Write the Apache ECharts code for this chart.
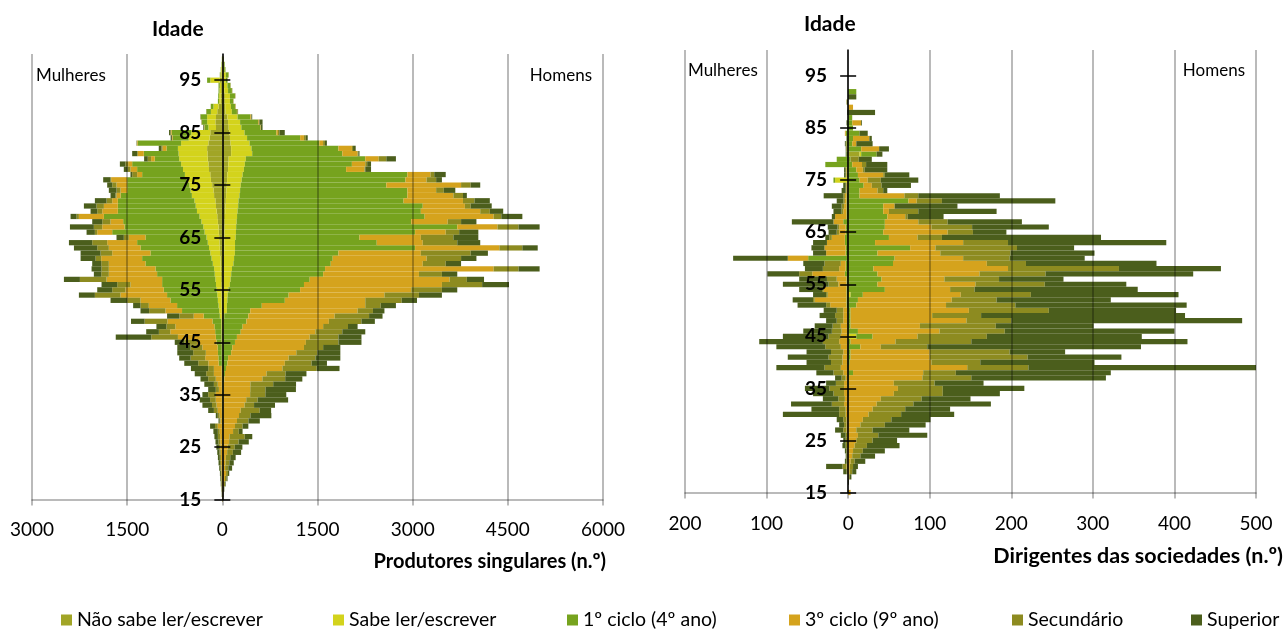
<!DOCTYPE html>
<html>
<head>
<meta charset="utf-8">
<script src="https://cdn.jsdelivr.net/npm/echarts@6/dist/echarts.min.js"></script>
<style>
html,body{margin:0;padding:0;background:#fff;}
#c{width:1284px;height:630px;}
</style>
</head>
<body>
<div id="c"></div>
<script>
// Age categories (y axis)
const ages = ['15','16','17','18','19','20','21','22','23','24','25','26','27','28','29','30','31','32','33','34','35','36','37','38','39','40','41','42','43','44','45','46','47','48','49','50','51','52','53','54','55','56','57','58','59','60','61','62','63','64','65','66','67','68','69','70','71','72','73','74','75','76','77','78','79','80','81','82','83','84','85','86','87','88','89','90','91','92','93','94','95','96','97','98','99','100'];
const yTickLabels = ['15','25','35','45','55','65','75','85','95'];
const catNames = ['Não sabe ler/escrever','Sabe ler/escrever','1º ciclo (4º ano)','3º ciclo (9º ano)','Secundário','Superior'];
const catColors = ['#a1a526','#d3d31c','#76a31e','#d5a31d','#8d8b20','#4b5e1c'];

// ---------- Produtores singulares, Homens (ages 15..99)
const psM_NS  = [0,0,0,0,0,1,1,1,1,1, 1,1,1,1,1,1,2,2,2,2, 2,3,3,3,3,4,4,5,5,6, 6,7,8,8,9,10,12,12,14,14, 16,18,20,20,22,25,25,28,30,30, 35,35,38,40,42,45,50,55,60,65, 70,75,80,90,95,100,139,139,130,120, 110,100,90,80,50,45,40,40,30,25, 15,15,10,8,5];
const psM_SL  = [0,0,0,0,0,0,0,0,0,0, 0,0,0,1,1,1,1,1,1,2, 2,2,2,3,3,3,5,5,6,7, 10,10,12,14,16,20,60,60,65,70, 80,100,110,120,130,150,160,170,170,170, 175,180,180,185,190,195,200,200,210,215, 220,230,240,250,260,270,332,320,300,270, 240,200,190,160,100,90,80,80,60,55, 40,40,20,15,10];
const psM_C1  = [0,1,1,2,2,3,3,4,4,5, 5,6,6,7,8,9,10,11,12,13, 14,15,17,25,35,50,70,81,128,144, 183,213,270,298,355,381,369,550,906,961, 1130,1169,1247,1449,1467,1534,1555,1632,2838,2234, 1952,2823,3485,2753,2957,2889,2909,2602,2647,2637, 2295,2582,2597,1611,1687,1883,1420,1371,1098,836, 502,298,282,201,80,64,49,79,61,47, 25,42,18,13,9];
const psM_C3  = [3,8,15,25,40,55,40,45,50,70, 80,100,105,160,190,220,250,275,335,360, 420,420,420,600,655,890,906,954,1027,1130, 1118,1147,1178,1269,1299,1359,1691,1631,1268,1510, 1752,2174,2205,1510,2657,1450,1479,1299,1329,725, 967,483,634,574,1087,936,664,936,725,453, 1178,332,363,290,211,211,241,212,60,60, 24,6,12,12,6,6,4,4,3,2, 2,2,1,1,1];
const psM_SEC = [2,5,10,15,25,30,50,60,70,90, 110,150,240,90,120,180,180,300,150,180, 240,240,360,360,300,540,422,423,332,302, 513,453,423,392,514,543,242,242,574,544, 483,634,272,362,393,362,544,785,362,544, 513,212,332,211,121,151,91,181,151,121, 151,151,60,12,30,121,12,18,30,30, 24,6,12,6,6,6,2,2,2,2, 1,1,1,0,0];
const psM_SUP = [0,2,5,10,15,20,60,70,85,130, 120,160,120,60,90,180,330,180,330,480, 330,480,360,270,330,360,242,392,362,271, 363,363,362,151,211,212,181,241,241,362, 242,423,271,242,332,242,242,272,242,362, 393,302,332,242,332,211,332,242,61,181, 151,91,181,91,61,151,18,42,30,30, 84,24,48,12,6,0,2,2,2,1, 1,1,0,0,0];

// ---------- Produtores singulares, Mulheres (ages 15..99)
const psW_NS  = [0,0,0,0,0,0,0,0,0,0, 0,1,1,1,1,1,1,1,1,1, 1,1,1,1,1,1,3,3,3,3, 4,4,5,5,6,8,9,10,12,14, 16,18,20,22,25,28,30,35,40,45, 50,55,60,70,80,90,100,110,130,140, 160,180,190,210,220,230,235,240,220,200, 190,100,110,100,80,60,25,25,20,20, 40,15,10,5,3];
const psW_SL  = [0,0,0,0,0,0,0,0,0,1, 1,1,1,1,1,1,1,1,1,1, 1,1,1,1,1,1,5,5,6,6, 8,8,8,10,10,32,41,50,58,66, 74,82,90,98,105,122,140,155,170,185, 200,225,240,260,280,310,320,330,350,360, 360,380,400,410,430,450,455,460,430,330, 300,120,130,140,100,80,25,25,25,20, 150,15,10,5,3];
const psW_C1  = [0,0,1,1,1,1,2,2,2,2, 3,3,3,4,4,4,4,5,5,5, 5,5,6,6,7,8,50,55,60,65, 80,90,100,110,140,254,585,653,748,791, 833,849,839,908,924,1062,1094,943,1080,1113, 962,1456,1242,1233,1507,1247,1227,1207,1125,1000, 980,940,674,723,771,385,548,181,683,250, 310,60,80,100,70,40,20,15,15,20, 50,10,5,5,2];
const psW_C3  = [2,3,5,8,10,12,15,18,20,22, 25,28,30,35,66,24,36,65,84,96, 96,47,64,95,124,123,162,207,191,241, 308,598,707,615,709,157,262,446,472,734, 603,499,876,761,735,577,645,603,499,472, 262,236,351,199,394,246,220,89,63,105, 168,252,79,105,63,57,94,60,10,10, 10,5,3,2,2,1,0,0,0,0, 0,0,0,0,0];
const psW_SEC = [1,3,4,6,8,10,12,15,18,20, 25,30,35,30,43,12,30,61,72,90, 120,49,61,120,121,90,160,230,200,185, 200,420,180,141,360,226,257,131,210,404, 210,209,420,120,115,120,89,184,183,236, 79,37,132,131,36,79,116,89,16,63, 68,10,78,42,42,53,11,19,5,5, 10,3,3,2,2,1,0,0,0,0, 0,0,0,0,0];
const psW_SUP = [2,4,5,10,12,15,20,25,30,35, 40,45,55,70,78,18,31,90,151,163, 91,120,151,121,181,272,220,180,250,210, 150,560,200,158,215,194,136,116,262,252, 236,247,252,116,157,142,236,314,367,367, 115,131,377,158,95,105,199,184,78,121, 79,116,27,63,89,58,78,42,5,20, 20,12,4,4,2,1,0,0,0,0, 0,0,0,0,0];

// ---------- Dirigentes das sociedades, Homens (ages 15..99)
const dsM_NS  = [0,0,0,0,0,0,0,0,0,0, 0,0,0,0,0,0,0,0,0,0, 0,0,0,0,0,0,0,0,0,0, 0,0,0,0,0,0,0,0,1,0, 0,0,0,0,0,0,0,0,0,0, 0,0,0,0,0,0,0,0,0,0, 0,0,0,0,0,14,0,0,0,0, 0,0,0,0,0,0,0,0,0,0, 0,0,0,0,0];
const dsM_SL  = [0,0,0,0,0,0,0,0,0,0, 0,0,0,0,0,0,0,0,0,0, 0,0,0,0,0,0,0,0,0,0, 10,0,0,0,0,0,0,0,2,0, 0,0,0,0,0,0,0,0,0,0, 0,0,0,0,0,0,0,0,0,0, 0,0,0,0,0,2,0,0,0,0, 0,0,0,0,0,0,0,0,0,0, 0,0,0,0,0];
const dsM_C1  = [0,0,0,0,0,0,0,0,0,0, 0,0,0,0,0,0,0,0,0,1, 1,1,1,6,1,2,3,3,15,3, 20,12,3,3,3,3,10,12,15,45, 36,41,36,31,55,57,36,76,33,50, 43,45,45,48,43,43,74,14,14,19, 14,12,10,5,3,19,16,5,6,14, 6,5,5,0,0,0,0,10,0,0, 0,0,0,0,0];
const dsM_C3  = [3,0,0,1,2,2,3,5,6,8, 10,12,10,15,18,25,30,35,40,55, 60,55,90,86,145,100,97,97,25,55, 55,100,85,142,100,145,110,115,120,80, 120,77,125,165,115,84,77,31,108,35, 79,57,41,22,7,14,10,55,22,10, 10,31,8,12,0,0,22,5,20,0, 0,11,0,0,6,0,0,0,0,0, 0,0,0,0,0];
const dsM_SEC = [0,0,0,1,3,4,5,10,12,15, 20,25,20,30,35,40,40,45,50,60, 55,50,60,40,75,60,120,98,57,93, 85,80,93,55,60,98,85,55,86,30, 85,67,81,136,48,57,86,100,55,30, 31,50,36,3,36,0,31,17,7,12, 16,2,2,5,10,0,0,0,0,0, 0,0,0,0,0,0,0,0,0,0, 0,0,0,0,0];
const dsM_SUP = [0,0,1,2,5,6,13,18,27,40, 30,60,45,50,48,65,55,95,60,70, 100,60,165,190,279,140,115,68,262,265, 190,208,120,283,250,156,210,140,181,200, 100,79,181,125,160,92,103,70,194,195, 41,94,91,44,96,77,139,100,5,36, 46,30,28,26,16,7,12,20,3,10, 0,1,0,33,0,0,10,0,0,0, 0,0,0,0,0];

// ---------- Dirigentes das sociedades, Mulheres (ages 15..99)
const dsW_NS  = [0,0,0,0,0,0,0,0,0,0, 0,0,0,0,0,0,0,0,0,0, 0,0,0,0,0,0,0,0,0,0, 0,0,0,0,0,0,0,0,0,0, 0,0,0,0,0,0,0,0,0,0, 0,0,0,0,0,0,0,0,0,0, 0,0,0,0,0,0,0,0,0,1, 0,0,0,0,0,0,0,0,0,0, 0,0,0,0,0];
const dsW_SL  = [0,0,0,0,0,0,0,0,0,0, 0,0,0,0,0,0,0,0,0,0, 0,0,0,0,0,0,0,0,0,0, 0,0,0,0,0,0,0,0,0,0, 0,0,0,0,0,0,0,0,0,0, 0,0,0,0,0,0,0,0,0,0, 16,0,0,0,0,0,0,0,0,0, 0,0,0,0,0,0,0,0,0,0, 0,0,0,0,0];
const dsW_C1  = [0,0,0,0,0,0,0,0,0,0, 0,0,0,0,0,0,0,0,0,0, 0,1,0,1,1,1,1,1,1,1, 1,1,1,1,1,1,2,2,2,2, 2,2,4,3,3,49,3,3,4,4, 3,3,6,2,2,2,2,2,1,1, 2,2,2,28,14,2,1,2,1,2, 1,1,0,0,0,0,0,0,0,0, 0,0,0,0,0];
const dsW_C3  = [0,0,0,0,1,2,1,1,1,1, 1,1,2,2,2,3,3,5,4,5, 5,4,3,5,8,6,6,5,8,10, 8,7,8,5,5,5,20,39,23,28, 10,12,40,8,6,25,24,26,22,16, 8,8,12,14,4,3,2,2,1,1, 0,1,1,0,0,0,1,0,0,1, 0,0,0,0,0,0,0,0,0,0, 0,0,0,0,0];
const dsW_SEC = [0,0,0,0,1,5,1,1,1,2, 2,2,4,3,4,8,8,15,8,13, 18,10,5,12,20,14,17,15,19,20, 15,12,10,8,10,8,5,2,2,2, 12,12,16,20,20,0,0,0,0,3, 3,2,0,0,2,3,2,2,1,1, 0,0,0,0,0,0,0,1,0,0, 0,0,0,0,0,2,0,0,0,0, 0,0,0,0,0];
const dsW_SUP = [0,0,0,0,4,20,2,1,2,4, 3,6,10,6,8,69,34,50,19,25, 30,12,8,21,59,30,50,30,60,78, 56,35,22,13,19,16,35,25,16,28, 56,34,39,22,26,67,16,16,17,5, 10,12,51,4,10,12,8,24,5,3, 0,2,2,0,0,1,1,1,1,0, 0,1,0,1,0,0,0,0,0,0, 0,0,0,0,0];

// x-axis tick settings
const psTicks = {min:-3000, max:6000, interval:1500};
const dsTicks = {min:-200, max:500, interval:100};

const chart = echarts.init(document.getElementById('c'), null, {renderer:'canvas'});
const FONT = 'Lato';

const psM = [psM_NS, psM_SL, psM_C1, psM_C3, psM_SEC, psM_SUP];
const psW = [psW_NS, psW_SL, psW_C1, psW_C3, psW_SEC, psW_SUP];
const dsM = [dsM_NS, dsM_SL, dsM_C1, dsM_C3, dsM_SEC, dsM_SUP];
const dsW = [dsW_NS, dsW_SL, dsW_C1, dsW_C3, dsW_SEC, dsW_SUP];

function isTick(idx){ return yTickLabels.indexOf(ages[idx]) >= 0; }

const grids = [
  {left:32, width:571, top:54, height:445.5, containLabel:false, outerBoundsMode:'none'},
  {left:685, width:571, top:50, height:442.5, containLabel:false, outerBoundsMode:'none'}
];
const ticksOf = [psTicks, dsTicks];
// place the age axis at the zero of the value axis
function zeroOffset(gi){
  const t = ticksOf[gi];
  return -grids[gi].width * (0 - t.min) / (t.max - t.min);
}

const series = [];
function addSeries(gi, women, men){
  for (let k = 0; k < 6; k++) {
    series.push({
      type:'bar', name:catNames[k], xAxisIndex:gi, yAxisIndex:gi*2, stack:'s'+gi,
      barCategoryGap:'0%', itemStyle:{color:catColors[k]},
      data: women[k].map(v => -v), silent:true
    });
  }
  for (let k = 0; k < 6; k++) {
    series.push({
      type:'bar', name:catNames[k], xAxisIndex:gi, yAxisIndex:gi*2, stack:'s'+gi,
      barCategoryGap:'0%', itemStyle:{color:catColors[k]},
      data: men[k], silent:true
    });
  }
}
addSeries(0, psW, psM);
addSeries(1, dsW, dsM);

const gridLine = 'rgba(0,0,0,0.36)';
function xAxisFor(gi, t, margin){
  return {
    type:'value', gridIndex:gi, min:t.min, max:t.max, interval:t.interval, z:3,
    axisLine:{show:true, onZero:false, lineStyle:{color:gridLine, width:1.5}},
    axisTick:{show:true, length:6, lineStyle:{color:gridLine, width:1.5}},
    splitLine:{show:true, lineStyle:{color:gridLine, width:1.5}},
    axisLabel:{formatter:v => String(Math.abs(v)), fontSize:19, color:'#000', margin:margin, fontFamily:FONT}
  };
}
function yAxesFor(gi){
  const off = zeroOffset(gi);
  return [{
    type:'category', gridIndex:gi, data:ages, boundaryGap:false, position:'left', offset:off, z:6,
    axisLine:{show:true, onZero:false, lineStyle:{color:'#000', width:1.5}},
    axisTick:{show:true, length:8, interval:(i)=>isTick(i), lineStyle:{color:'#000', width:1.5}},
    axisLabel:{show:true, interval:(i)=>isTick(i), fontSize:19, fontWeight:'bold', color:'#000', margin:21, fontFamily:FONT},
    splitLine:{show:false}
  },{
    type:'category', gridIndex:gi, data:ages, boundaryGap:false, position:'left', offset:off, z:6,
    axisLine:{show:false, onZero:false},
    axisTick:{show:true, inside:true, length:8, interval:(i)=>isTick(i), lineStyle:{color:'#000', width:1.5}},
    axisLabel:{show:false}, splitLine:{show:false}
  }];
}

function txt(text, pos, size, bold){
  return Object.assign({text:text, padding:0, itemGap:0,
    textStyle:{fontSize:size, fontWeight:bold?'bold':'normal', color:'#000', fontFamily:FONT}}, pos);
}

const legendLeft = [61, 333, 567, 789, 1012, 1191];
const legends = catNames.map((n, i) => ({
  data:[n], left:legendLeft[i], top:610, icon:'rect', itemWidth:11, itemHeight:11,
  selectedMode:false, padding:0, itemGap:0,
  textStyle:{fontSize:19.5, color:'#000', fontFamily:FONT}
}));

chart.setOption({
  animation:false,
  backgroundColor:'#fff',
  textStyle:{fontFamily:FONT},
  title:[
    txt('Idade', {left:152, top:19}, 21, true),
    txt('Idade', {left:804, top:14}, 21, true),
    txt('Mulheres', {left:36, top:67}, 17, false),
    txt('Homens', {right:692, top:67}, 17, false),
    txt('Mulheres', {left:688, top:62}, 17, false),
    txt('Homens', {right:39, top:62}, 17, false),
    txt('Produtores singulares (n.º)', {right:678, top:552}, 20, true),
    txt('Dirigentes das sociedades (n.º)', {right:1, top:545}, 21.5, true)
  ],
  legend:legends,
  grid:grids,
  xAxis:[xAxisFor(0, psTicks, 21), xAxisFor(1, dsTicks, 22)],
  yAxis:[].concat(yAxesFor(0), yAxesFor(1)),
  series:series
});
</script>
</body>
</html>
